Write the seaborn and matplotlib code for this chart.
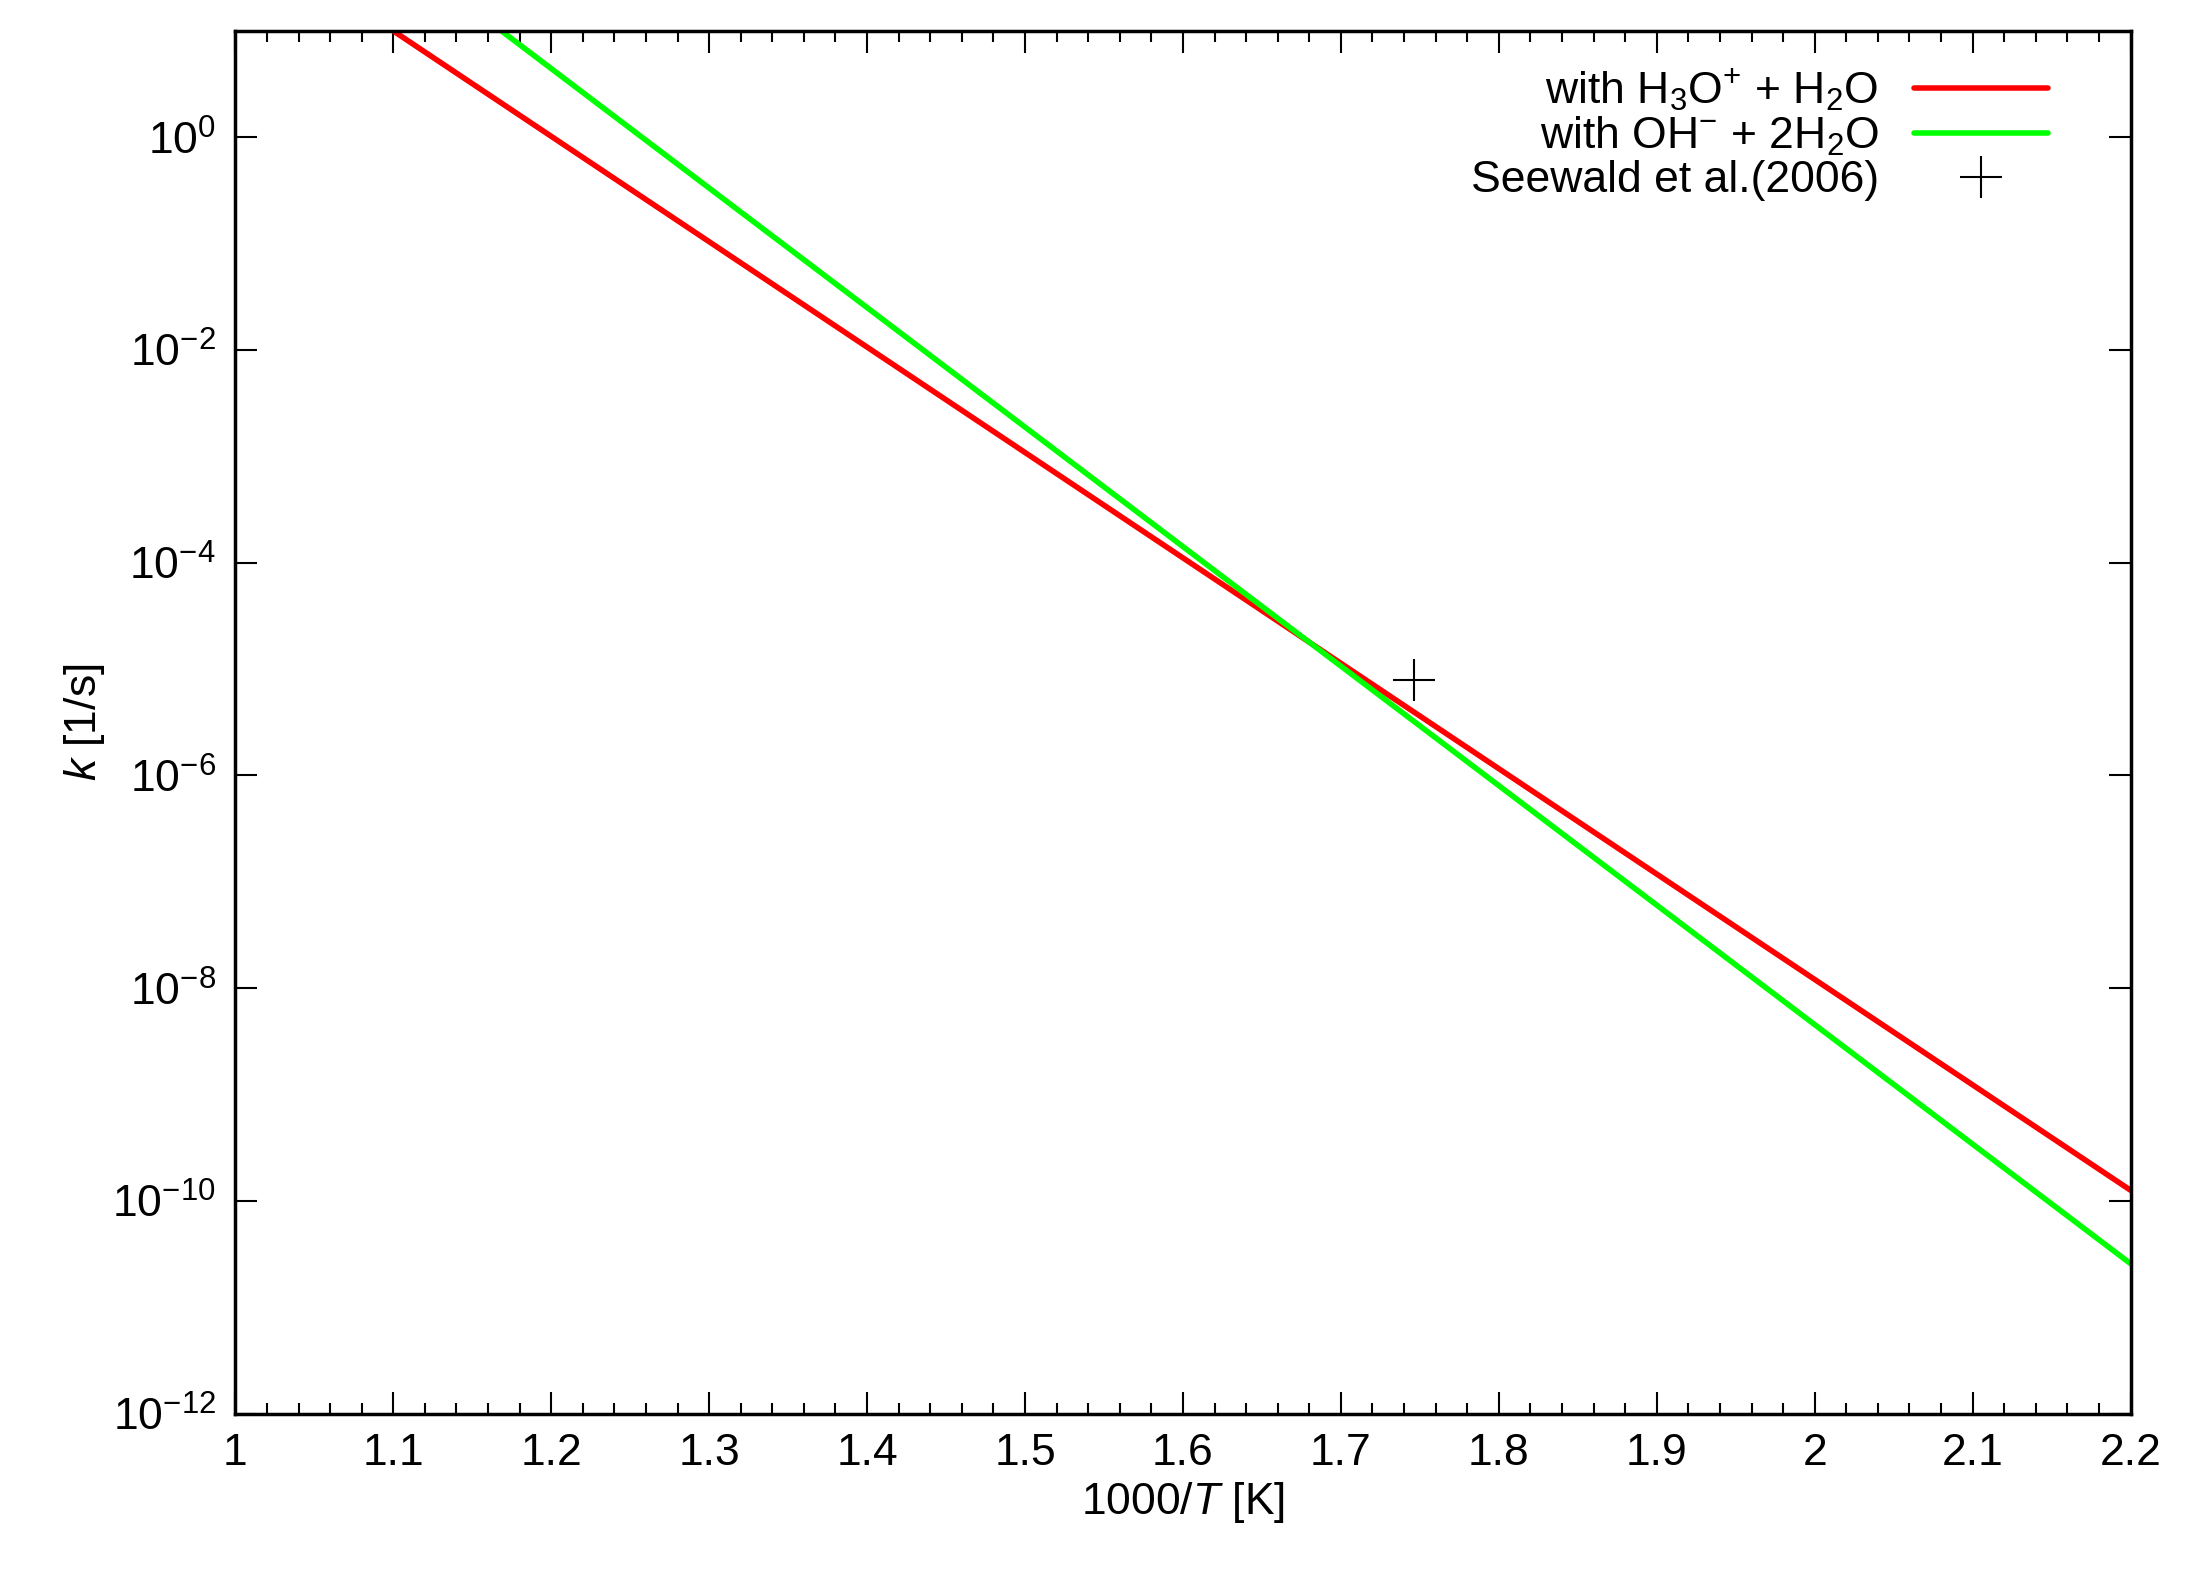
import matplotlib
matplotlib.use("Agg")
import matplotlib.pyplot as plt
import seaborn as sns
import numpy as np
from matplotlib.ticker import MultipleLocator, FixedLocator, NullLocator

# (log10 of k at the line ends)
acid_x = [1.1, 2.2]
acid_logk = [1.0, -9.9]
base_x = [1.1685, 2.2]
base_logk = [1.0, -10.59]
seewald_x = [1.746]
seewald_logk = [-5.10]

sns.set_theme(style="white")
plt.rcParams["font.family"] = ["Liberation Sans", "DejaVu Sans"]
plt.rcParams["mathtext.fontset"] = "custom"
plt.rcParams["mathtext.rm"] = "Liberation Sans"
plt.rcParams["mathtext.it"] = "Liberation Sans:italic"
plt.rcParams["text.color"] = "black"
plt.rcParams["axes.labelcolor"] = "black"
plt.rcParams["xtick.color"] = "black"
plt.rcParams["ytick.color"] = "black"

fig = plt.figure(figsize=(21.95, 15.71), dpi=100)
ax = fig.add_axes([168 / 1567, 1 - 1006 / 1118, (1521 - 168) / 1567, (1006 - 22) / 1118])

sns.lineplot(x=acid_x, y=10 ** np.array(acid_logk), color="#ff0000", linewidth=4,
             label=r"with H$_3$O$^{+}$ + H$_2$O", ax=ax)
sns.lineplot(x=base_x, y=10 ** np.array(base_logk), color="#00ff00", linewidth=4,
             label=r"with OH$^{-}$ + 2H$_2$O", ax=ax)
ax.plot(seewald_x, 10 ** np.array(seewald_logk), marker="+", color="black", markersize=30,
        markeredgewidth=1.5, linestyle="none", label="Seewald et al.(2006)")

ax.set_yscale("log")
ax.set_xlim(1, 2.2)
ax.set_ylim(1e-12, 1e1)
ax.set_xticks(np.arange(1, 2.21, 0.1))
ax.xaxis.set_minor_locator(MultipleLocator(0.02))
ax.set_xticklabels(["1", "1.1", "1.2", "1.3", "1.4", "1.5", "1.6", "1.7", "1.8", "1.9", "2", "2.1", "2.2"])
ax.yaxis.set_major_locator(FixedLocator([10.0 ** e for e in range(-12, 1, 2)]))
ax.yaxis.set_minor_locator(NullLocator())
ax.set_yticklabels([rf"10$^{{{e}}}$" for e in range(-12, 1, 2)])
ax.tick_params(axis="both", which="both", direction="in", top=True, right=True,
               bottom=True, left=True, labelsize=32, pad=14)
ax.tick_params(which="major", length=16, width=1.5)
ax.tick_params(which="minor", length=8, width=1.5)
for s in ax.spines.values():
    s.set_color("black")
    s.set_linewidth(2.5)

ax.set_xlabel(r"1000/$\it{T}$ [K]", fontsize=32)
ax.set_ylabel(r"$\it{k}$ [1/s]", fontsize=32)

leg = ax.legend(loc="upper right", markerfirst=False, frameon=False, fontsize=32,
                handlelength=3, borderaxespad=0.4, labelspacing=0.05,
                bbox_to_anchor=(0.975, 1.0))
for t in leg.get_texts():
    t.set_ha("right")

fig.savefig("out.png", dpi=100)
